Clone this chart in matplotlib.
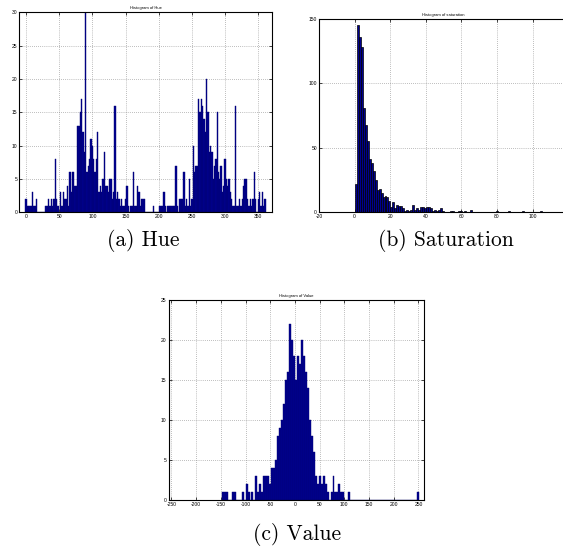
import numpy as np
import matplotlib
matplotlib.use("Agg")
import matplotlib.pyplot as plt

plt.rcParams['font.family'] = ['Liberation Sans', 'DejaVu Sans']
plt.rcParams['axes.unicode_minus'] = False

# hue histogram: bins of width 2, centred on 0, 2, ..., 360
hue_centers = np.arange(0, 362, 2)
hue_counts = [2, 1, 1, 1, 1, 3, 1, 1, 2, 0,
              0, 0, 0, 0, 0, 1, 1, 2, 1, 2,
              1, 2, 8, 2, 1, 0, 3, 1, 3, 2,
              2, 4, 1, 6, 3, 6, 6, 4, 4, 13,
              13, 15, 17, 12, 9, 30, 6, 7, 8, 11,
              10, 8, 6, 8, 12, 3, 4, 3, 5, 9,
              4, 4, 3, 5, 5, 2, 3, 16, 2, 3,
              2, 1, 2, 1, 1, 2, 4, 1, 0, 1,
              1, 6, 1, 1, 4, 3, 1, 2, 2, 2,
              0, 0, 0, 0, 0, 0, 1, 0, 0, 0,
              0, 1, 1, 1, 3, 1, 0, 1, 1, 1,
              1, 1, 1, 7, 1, 0, 2, 2, 2, 6,
              1, 2, 1, 5, 1, 2, 10, 6, 7, 7,
              17, 15, 17, 16, 14, 12, 20, 15, 9, 10,
              9, 5, 7, 8, 15, 6, 5, 7, 3, 4,
              8, 5, 4, 5, 3, 2, 1, 1, 16, 1,
              1, 2, 1, 2, 4, 5, 5, 2, 1, 2,
              1, 2, 6, 2, 0, 2, 3, 1, 3, 1,
              2]

# saturation histogram: bins of width 1.12 starting at 0
sat_width = 1.12
sat_counts = [22, 145, 136, 128, 81, 68, 55, 41, 38, 32,
              25, 17, 18, 15, 12, 13, 12, 9, 4, 8,
              3, 6, 5, 5, 3, 1, 2, 1, 2, 6,
              2, 3, 2, 4, 4, 3, 4, 4, 3, 1,
              2, 1, 2, 3, 1, 0, 0, 0, 1, 1,
              0, 0, 1, 1, 0, 1, 0, 0, 2, 0,
              0, 0, 0, 0, 0, 0, 0, 0, 0, 0,
              0, 1, 0, 0, 0, 0, 0, 1, 0, 0,
              0, 0, 0, 0, 1, 0, 0, 0, 0, 0,
              0, 0, 0, 1]
sat_centers = (np.arange(len(sat_counts)) + 0.5) * sat_width

# value histogram: bins of width 4, centred on -146 ... 250
val_centers = np.arange(-146, 254, 4)
val_counts = [1, 1, 1, 0, 0, 1, 1, 0, 0, 0,
              1, 0, 2, 1, 0, 1, 0, 3, 1, 2,
              1, 3, 3, 3, 2, 4, 4, 5, 8, 9,
              10, 12, 15, 16, 22, 20, 18, 15, 18, 17,
              20, 18, 16, 14, 10, 8, 6, 3, 2, 3,
              2, 3, 2, 1, 0, 1, 3, 1, 1, 2,
              1, 1, 0, 0, 1, 0, 0, 0, 0, 0,
              0, 0, 0, 0, 0, 0, 0, 0, 0, 0,
              0, 0, 0, 0, 0, 0, 0, 0, 0, 0,
              0, 0, 0, 0, 0, 0, 0, 0, 0, 1]

navy = '#00008f'
W, H = 563, 549


def style(ax, title, xlim, ylim, xticks, yticks):
    ax.set_xlim(*xlim)
    ax.set_ylim(*ylim)
    ax.set_xticks(xticks)
    ax.set_yticks(yticks)
    ax.grid(True, linestyle=(0, (1, 2)), color='0.5', linewidth=0.5)
    ax.set_axisbelow(True)
    ax.tick_params(direction='in', top=True, right=True, length=2.2,
                   width=0.5, labelsize=3.6, pad=1.5)
    for sp in ax.spines.values():
        sp.set_linewidth(0.8)
    ax.set_title(title, fontsize=3.0, pad=2.5)


def box(left, top, width, height):
    return [left / W, 1 - (top + height) / H, width / W, height / H]


fig = plt.figure(figsize=(W / 100, H / 100), dpi=100)

ax_a = fig.add_axes(box(19.4, 12.3, 252.2, 200))
ax_a.bar(hue_centers, hue_counts, width=2, color=navy,
         edgecolor='#000070', linewidth=0.3)
style(ax_a, 'Histogram of Hue', (-10, 370), (0, 30),
      range(0, 351, 50), range(0, 31, 5))

# this axes runs past the right edge of the figure
ax_b = fig.add_axes(box(319, 19, 249.2, 193.3))
ax_b.bar(sat_centers, sat_counts, width=sat_width, color=navy,
         edgecolor='black', linewidth=0.5)
style(ax_b, 'Histogram of saturation', (-20, 120), (0, 150),
      range(-20, 101, 20), range(0, 151, 50))

ax_c = fig.add_axes(box(168.5, 300, 255.4, 200))
ax_c.bar(val_centers, val_counts, width=4, color=navy,
         edgecolor='#000070', linewidth=0.3)
style(ax_c, 'Histogram of Value', (-256, 261), (0, 25),
      range(-250, 251, 50), range(0, 26, 5))

cap = dict(ha='center', va='center', fontsize=15.5, family='cmr10')
fig.text(143 / W, 1 - 240 / H, '(a) Hue', **cap)
fig.text(446 / W, 1 - 240 / H, '(b) Saturation', **cap)
fig.text(297 / W, 1 - 535 / H, '(c) Value', **cap)

fig.savefig('out.png', dpi=100)
